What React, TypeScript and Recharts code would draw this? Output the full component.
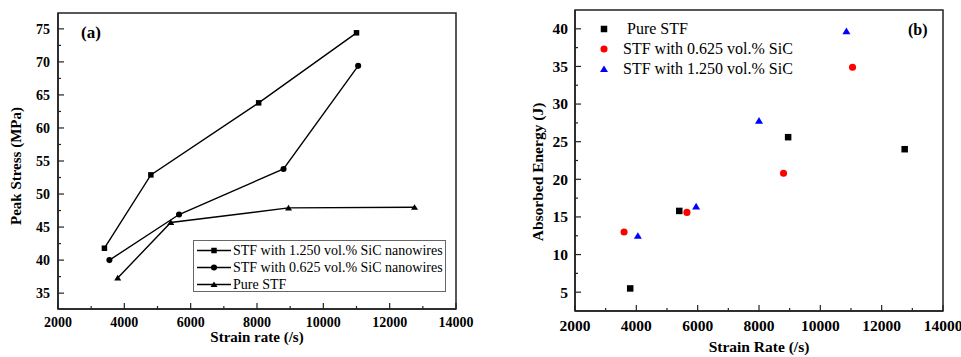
import React from 'react';
import { ScatterChart, Scatter, XAxis, YAxis, ReferenceArea, Legend } from 'recharts';

const FONT = '"Liberation Serif", "Times New Roman", serif';

// panel (a): peak stress vs strain rate
const rate125 = [3400, 4800, 8050, 11000];
const stress125 = [41.8, 52.9, 63.8, 74.4];
const rate0625 = [3550, 5650, 8800, 11050];
const stress0625 = [40.0, 46.9, 53.8, 69.4];
const ratePure = [3800, 5400, 8950, 12750];
const stressPure = [37.3, 45.7, 47.9, 48.0];

// panel (b): absorbed energy vs strain rate
const eRatePure = [3800, 5400, 8950, 12750];
const energyPure = [5.5, 15.8, 25.6, 24.0];
const eRate0625 = [3600, 5650, 8800, 11050];
const energy0625 = [13.0, 15.6, 20.8, 34.9];
const eRate125 = [4050, 5950, 8000, 10850];
const energy125 = [12.5, 16.4, 27.8, 39.7];

// ticks (major + minor)
const rateTicks = [2000, 3000, 4000, 5000, 6000, 7000, 8000, 9000, 10000, 11000, 12000, 13000, 14000];
const stressTicks = [35, 37.5, 40, 42.5, 45, 47.5, 50, 52.5, 55, 57.5, 60, 62.5, 65, 67.5, 70, 72.5, 75];
const energyTicks = [5, 7.5, 10, 12.5, 15, 17.5, 20, 22.5, 25, 27.5, 30, 32.5, 35, 37.5, 40];

const rateDomain = [2000, 14000];
const stressDomain = [32.6, 77.4];
const energyDomain = [2.5, 42.5];

const zip = (xs: number[], ys: number[]) => xs.map((x, i) => ({ x, y: ys[i] }));

const marker = (shape: string, cx: number, cy: number, s: number, color: string) => {
  if (shape === 'square') return <rect x={cx - s / 2} y={cy - s / 2} width={s} height={s} fill={color} />;
  if (shape === 'circle') return <circle cx={cx} cy={cy} r={s / 2 + 0.3} fill={color} />;
  const w = s + 1.5;
  const h = s * 0.95;
  return <polygon points={`${cx},${cy - h / 2 - 0.5} ${cx - w / 2},${cy + h / 2} ${cx + w / 2},${cy + h / 2}`} fill={color} />;
};

const shapeFn = (shape: string, s: number, color: string) => (p: any) => marker(shape, p.cx, p.cy, s, color);

const xTick = (fontSize: number, dy: number) => (p: any) => {
  const v = p.payload.value;
  const major = v % 2000 === 0;
  return (
    <g>
      <line x1={p.x} x2={p.x} y1={p.y} y2={p.y - (major ? 6 : 3)} stroke="#222" strokeWidth={1.2} />
      {major && (
        <text x={p.x} y={p.y + dy} textAnchor="middle" fontFamily={FONT} fontWeight="bold" fontSize={fontSize} fill="#000">
          {v}
        </text>
      )}
    </g>
  );
};

const yTick = (fontSize: number, gap: number) => (p: any) => {
  const v = p.payload.value;
  const major = Math.abs(v % 5) < 1e-6;
  return (
    <g>
      <line x1={p.x} x2={p.x + (major ? 6 : 3)} y1={p.y} y2={p.y} stroke="#222" strokeWidth={1.2} />
      {major && (
        <text x={p.x - gap} y={p.y} dy="0.35em" textAnchor="end" fontFamily={FONT} fontWeight="bold" fontSize={fontSize} fill="#000">
          {v}
        </text>
      )}
    </g>
  );
};

const title = (text: string, x: number, y: number, size: number, rotate = false) => () => (
  <text
    x={x}
    y={y}
    textAnchor="middle"
    dominantBaseline="central"
    transform={rotate ? `rotate(-90 ${x} ${y})` : undefined}
    fontFamily={FONT}
    fontWeight="bold"
    fontSize={size}
    fill="#000"
  >
    {text}
  </text>
);

const seriesA = [
  { name: 'STF with 1.250 vol.% SiC nanowires', shape: 'square', data: zip(rate125, stress125) },
  { name: 'STF with 0.625 vol.% SiC nanowires', shape: 'circle', data: zip(rate0625, stress0625) },
  { name: 'Pure STF', shape: 'triangle', data: zip(ratePure, stressPure) },
];

const seriesB = [
  { name: 'Pure STF', shape: 'square', color: '#000000', data: zip(eRatePure, energyPure) },
  { name: 'STF with 0.625 vol.% SiC', shape: 'circle', color: '#ff0000', data: zip(eRate0625, energy0625) },
  { name: 'STF with 1.250 vol.% SiC', shape: 'triangle', color: '#0000ff', data: zip(eRate125, energy125) },
];

const LegendA = () => (
  <div
    style={{
      width: 253,
      height: 52,
      boxSizing: 'border-box',
      border: '1px solid #666',
      background: '#fff',
      padding: '1px 0 0 3px',
      fontFamily: FONT,
      fontSize: 14,
      color: '#000',
    }}
  >
    {seriesA.map((s) => (
      <div key={s.name} style={{ display: 'flex', alignItems: 'center', height: 17, whiteSpace: 'nowrap' }}>
        <svg width={34} height={17}>
          <line x1={0} x2={34} y1={8.5} y2={8.5} stroke="#000" strokeWidth={1.4} />
          {marker(s.shape, 17, 8.5, 5.5, '#000')}
        </svg>
        <span style={{ marginLeft: 2 }}>{s.name}</span>
      </div>
    ))}
  </div>
);

const LegendB = () => (
  <div style={{ fontFamily: FONT, fontSize: 16, color: '#000' }}>
    {seriesB.map((s, i) => (
      <div key={s.name} style={{ display: 'flex', alignItems: 'center', height: 20, whiteSpace: 'nowrap' }}>
        <svg width={16} height={20}>{marker(s.shape, 8, 10, 6.5, s.color)}</svg>
        <span style={{ marginLeft: i === 0 ? 15 : 11 }}>{s.name}</span>
      </div>
    ))}
  </div>
);

export default function App() {
  return (
    <div style={{ position: 'absolute', left: 0, top: 0, width: 961, height: 357, background: '#fff', overflow: 'hidden' }}>
      <div style={{ position: 'absolute', left: 0, top: 0 }}>
        <ScatterChart width={480} height={357} margin={{ top: 13, right: 24, bottom: 15, left: 0 }}>
          <XAxis
            type="number"
            dataKey="x"
            domain={rateDomain}
            ticks={rateTicks}
            interval={0}
            allowDataOverflow
            height={33}
            tickSize={0}
            tickMargin={0}
            tickLine={false}
            tick={xTick(14, 18)}
            axisLine={{ stroke: '#222', strokeWidth: 1.5 }}
            label={{ content: title('Strain rate (/s)', 257, 337, 15) }}
          />
          <YAxis
            type="number"
            dataKey="y"
            domain={stressDomain}
            ticks={stressTicks}
            interval={0}
            allowDataOverflow
            width={58}
            tickSize={0}
            tickMargin={0}
            tickLine={false}
            tick={yTick(14, 8)}
            axisLine={{ stroke: '#222', strokeWidth: 1.5 }}
            label={{ content: title('Peak Stress (MPa)', 16, 166, 15, true) }}
          />
          <ReferenceArea
            x1={rateDomain[0]}
            x2={rateDomain[1]}
            y1={stressDomain[0]}
            y2={stressDomain[1]}
            fill="none"
            stroke="#222"
            strokeWidth={1.5}
          />
          {seriesA.map((s) => (
            <Scatter
              key={s.name}
              name={s.name}
              data={s.data}
              fill="#000"
              line={{ stroke: '#000', strokeWidth: 1.4 }}
              lineJointType="linear"
              shape={shapeFn(s.shape, 5.5, '#000')}
              isAnimationActive={false}
            />
          ))}
          <Legend
            layout="horizontal"
            verticalAlign="middle"
            align="center"
            wrapperStyle={{ left: 193, top: 240, width: 253, height: 52 }}
            content={() => <LegendA />}
          />
        </ScatterChart>
      </div>

      <div style={{ position: 'absolute', left: 480, top: 0 }}>
        <ScatterChart width={481} height={357} margin={{ top: 10, right: 18, bottom: 4, left: 0 }}>
          <XAxis
            type="number"
            dataKey="x"
            domain={rateDomain}
            ticks={rateTicks}
            interval={0}
            allowDataOverflow
            height={42}
            tickSize={0}
            tickMargin={0}
            tickLine={false}
            tick={xTick(15.5, 20)}
            axisLine={{ stroke: '#222', strokeWidth: 1.5 }}
            label={{ content: title('Strain Rate (/s)', 279, 346, 15.5) }}
          />
          <YAxis
            type="number"
            dataKey="y"
            domain={energyDomain}
            ticks={energyTicks}
            interval={0}
            allowDataOverflow
            width={95}
            tickSize={0}
            tickMargin={0}
            tickLine={false}
            tick={yTick(15.5, 7)}
            axisLine={{ stroke: '#222', strokeWidth: 1.5 }}
            label={{ content: title('Absorbed Energy (J)', 57, 172, 15.5, true) }}
          />
          <ReferenceArea
            x1={rateDomain[0]}
            x2={rateDomain[1]}
            y1={energyDomain[0]}
            y2={energyDomain[1]}
            fill="none"
            stroke="#222"
            strokeWidth={1.5}
          />
          {seriesB.map((s) => (
            <Scatter
              key={s.name}
              name={s.name}
              data={s.data}
              fill={s.color}
              shape={shapeFn(s.shape, 6.5, s.color)}
              isAnimationActive={false}
            />
          ))}
          <Legend
            layout="horizontal"
            verticalAlign="middle"
            align="center"
            wrapperStyle={{ left: 116, top: 19, width: 220, height: 60 }}
            content={() => <LegendB />}
          />
        </ScatterChart>
      </div>

      <div style={{ position: 'absolute', left: 81, top: 24, fontFamily: FONT, fontWeight: 'bold', fontSize: 17, lineHeight: 1 }}>(a)</div>
      <div style={{ position: 'absolute', left: 908, top: 22, fontFamily: FONT, fontWeight: 'bold', fontSize: 16, lineHeight: 1 }}>(b)</div>
    </div>
  );
}
